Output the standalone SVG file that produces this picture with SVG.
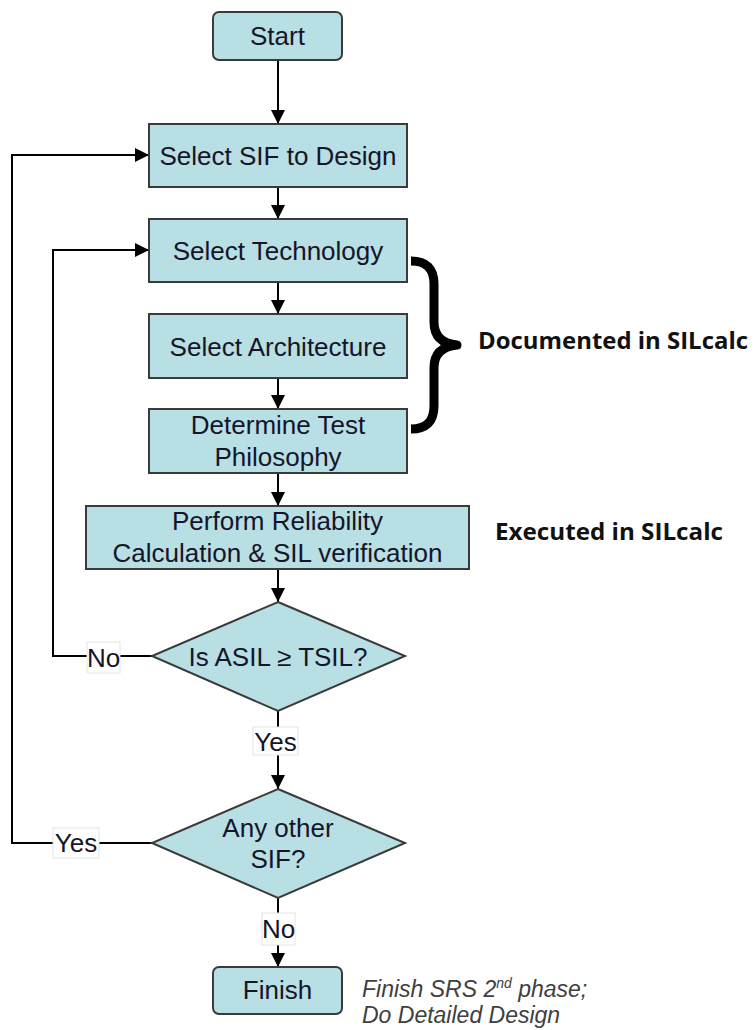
<svg xmlns="http://www.w3.org/2000/svg" width="756" height="1030" viewBox="0 0 756 1030">
  <defs>
    <marker id="arrow" viewBox="0 0 14 14" refX="14" refY="7" markerWidth="14" markerHeight="14" markerUnits="userSpaceOnUse" orient="auto">
      <path d="M0,0 L14,7 L0,14 z" fill="#000"/>
    </marker>
    <style>
      .box { fill: #b8dfe3; stroke: #3a3a3a; stroke-width: 2; }
      .t { font-family: "Liberation Sans", Arial, sans-serif; font-size: 26px; fill: #15152a; text-anchor: middle; }
      .conn { fill: none; stroke: #000; stroke-width: 2; }
      .lblbg { fill: #fff; stroke: #e4e4e4; stroke-width: 1; }
      .side { font-family: "Open Sans", "Liberation Sans", sans-serif; font-weight: bold; font-size: 24px; fill: #111; }
      .note { font-family: "Liberation Sans", Arial, sans-serif; font-style: italic; font-size: 23px; fill: #404040; }
    </style>
  </defs>
  <rect width="756" height="1030" fill="#fff"/>

  <g id="connectors">
    <line class="conn" x1="278" y1="60" x2="278" y2="124" marker-end="url(#arrow)"/>
    <line class="conn" x1="278" y1="187" x2="278" y2="219" marker-end="url(#arrow)"/>
    <line class="conn" x1="278" y1="282" x2="278" y2="314" marker-end="url(#arrow)"/>
    <line class="conn" x1="278" y1="378" x2="278" y2="409" marker-end="url(#arrow)"/>
    <line class="conn" x1="278" y1="473" x2="278" y2="506" marker-end="url(#arrow)"/>
    <line class="conn" x1="278" y1="569" x2="278" y2="602" marker-end="url(#arrow)"/>
    <line class="conn" x1="278" y1="711" x2="278" y2="789" marker-end="url(#arrow)"/>
    <line class="conn" x1="278" y1="898" x2="278" y2="967" marker-end="url(#arrow)"/>
    <polyline class="conn" points="152,656 53,656 53,250 149,250" marker-end="url(#arrow)"/>
    <polyline class="conn" points="152,843 12,843 12,155 149,155" marker-end="url(#arrow)"/>
    <g id="label-no-1">
      <rect class="lblbg" x="87" y="642" width="33" height="31"/>
      <text class="t" x="103.5" y="667">No</text>
    </g>
    <g id="label-yes-1">
      <rect class="lblbg" x="253" y="727" width="45" height="28"/>
      <text class="t" x="275.5" y="751">Yes</text>
    </g>
    <g id="label-yes-2">
      <rect class="lblbg" x="53" y="828" width="46" height="30"/>
      <text class="t" x="76" y="852">Yes</text>
    </g>
    <g id="label-no-2">
      <rect class="lblbg" x="262" y="913" width="33" height="32"/>
      <text class="t" x="278.5" y="938">No</text>
    </g>
  </g>

  <g id="start">
    <rect class="box" x="213" y="12" width="129" height="48" rx="6"/>
    <text class="t" x="277.5" y="45">Start</text>
  </g>
  <g id="select-sif">
    <rect class="box" x="149" y="124" width="258" height="63"/>
    <text class="t" x="278" y="165">Select SIF to Design</text>
  </g>
  <g id="select-technology">
    <rect class="box" x="149" y="219" width="258" height="63"/>
    <text class="t" x="278" y="260">Select Technology</text>
  </g>
  <g id="select-architecture">
    <rect class="box" x="149" y="314" width="258" height="64"/>
    <text class="t" x="278" y="356">Select Architecture</text>
  </g>
  <g id="determine-test">
    <rect class="box" x="149" y="409" width="258" height="64"/>
    <text class="t" x="278" y="434">Determine Test</text>
    <text class="t" x="278" y="466">Philosophy</text>
  </g>
  <g id="perform-reliability">
    <rect class="box" x="86" y="506" width="383" height="63"/>
    <text class="t" x="277.5" y="530">Perform Reliability</text>
    <text class="t" x="277.5" y="562">Calculation &amp; SIL verification</text>
  </g>
  <g id="decision-asil">
    <polygon class="box" points="278,602 405,656 278,711 152,656"/>
    <text class="t" x="278" y="666">Is ASIL ≥ TSIL?</text>
  </g>
  <g id="decision-other-sif">
    <polygon class="box" points="278,789 405,843 278,898 152,843"/>
    <text class="t" x="278" y="837">Any other</text>
    <text class="t" x="278" y="868">SIF?</text>
  </g>
  <g id="finish">
    <rect class="box" x="213" y="967" width="129" height="47" rx="6"/>
    <text class="t" x="277.5" y="999">Finish</text>
  </g>

  <g id="brace">
    <path d="M411,261 Q434,261 434,284 L434,322 Q434,343 457,345 Q434,347 434,368 L434,406 Q434,429 411,429" fill="none" stroke="#000" stroke-width="9" stroke-linejoin="round"/>
  </g>
  <g id="documented-label">
    <text class="side" x="478" y="349" textLength="270" lengthAdjust="spacingAndGlyphs">Documented in SILcalc</text>
  </g>
  <g id="executed-label">
    <text class="side" x="495" y="540" textLength="228" lengthAdjust="spacingAndGlyphs">Executed in SILcalc</text>
  </g>
  <g id="finish-note">
    <text class="note" x="362" y="997">Finish SRS 2<tspan font-size="14" dy="-9">nd</tspan><tspan dy="9"> phase;</tspan></text>
    <text class="note" x="362" y="1023">Do Detailed Design</text>
  </g>
</svg>
